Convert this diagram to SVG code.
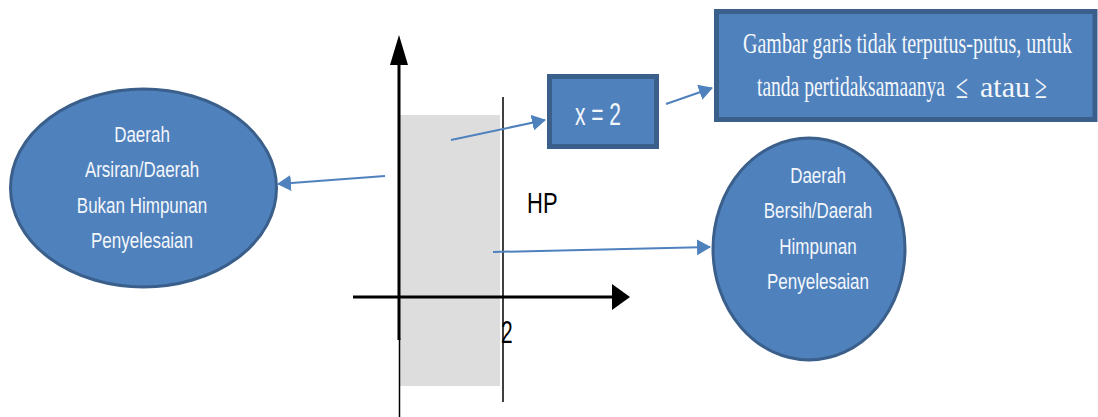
<svg xmlns="http://www.w3.org/2000/svg" width="1098" height="417" viewBox="0 0 1098 417">
  <style>
    .shape { fill: #4f81bd; stroke: #3a5f8b; }
    .lbl { font-family: "Liberation Sans", Arial, sans-serif; font-size: 17px; fill: #f4f7fb; text-anchor: middle; }
    .serif { font-family: "Liberation Serif", "Times New Roman", serif; fill: #f4f7fb; }
    .conn { stroke: #4f81bd; stroke-width: 2; fill: none; marker-end: url(#ah); }
    .axis { stroke: #000; stroke-width: 3; fill: none; }
    .dark { font-family: "Liberation Sans", Arial, sans-serif; fill: #000; }
  </style>
  <defs>
    <marker id="ah" markerUnits="userSpaceOnUse" markerWidth="14" markerHeight="16" refX="13" refY="8" orient="auto">
      <path d="M0,0 L14,8 L0,16 z" fill="#4f81bd"/>
    </marker>
  </defs>
  <rect width="1098" height="417" fill="#ffffff"/>

  <g id="graph">
    <rect x="400" y="115" width="100" height="271" fill="#dddddd"/>
    <line class="axis" x1="399" y1="60" x2="399" y2="340"/>
    <line x1="399.5" y1="338" x2="399.5" y2="417" stroke="#000" stroke-width="1.5"/>
    <polygon points="399,35 390,65 408,65" fill="#000"/>
    <line class="axis" x1="353" y1="297" x2="615" y2="297"/>
    <polygon points="630,297 612,284 612,310" fill="#000"/>
    <line x1="503" y1="97" x2="503" y2="402" stroke="#000" stroke-width="1.5"/>
    <text class="dark" font-size="21" transform="translate(501,343) scale(1,1.5)">2</text>
    <text class="dark" font-size="22" transform="translate(527,213) scale(1,1.35)">HP</text>
  </g>

  <g id="node-arsiran">
    <ellipse class="shape" cx="143.5" cy="188" rx="133" ry="99" stroke-width="3"/>
    <text class="lbl" transform="translate(142,142) scale(1,1.3)">Daerah</text>
    <text class="lbl" transform="translate(142,177) scale(1,1.3)">Arsiran/Daerah</text>
    <text class="lbl" transform="translate(142,213) scale(1,1.3)">Bukan Himpunan</text>
    <text class="lbl" transform="translate(142,248) scale(1,1.3)">Penyelesaian</text>
  </g>

  <g id="node-bersih">
    <ellipse class="shape" cx="809" cy="249" rx="96" ry="111" stroke-width="3"/>
    <text class="lbl" transform="translate(818,183) scale(1,1.3)">Daerah</text>
    <text class="lbl" transform="translate(818,218) scale(1,1.3)">Bersih/Daerah</text>
    <text class="lbl" transform="translate(818,254) scale(1,1.3)">Himpunan</text>
    <text class="lbl" transform="translate(818,289) scale(1,1.3)">Penyelesaian</text>
  </g>

  <g id="node-x2">
    <rect class="shape" x="549.5" y="76.5" width="107" height="70" stroke-width="5"/>
    <text class="lbl" style="font-size:21px" transform="translate(598,125) scale(1,1.45)">x = 2</text>
  </g>

  <g id="node-garis">
    <rect class="shape" x="716.5" y="11.5" width="378.5" height="108" stroke-width="5"/>
    <text class="serif" font-size="20" transform="translate(743,53) scale(1,1.5)" textLength="329" lengthAdjust="spacingAndGlyphs">Gambar garis tidak terputus-putus, untuk</text>
    <text class="serif" font-size="20" transform="translate(757,96) scale(1,1.5)" textLength="188" lengthAdjust="spacingAndGlyphs">tanda pertidaksamaanya</text>
    <text class="serif" font-size="34" x="956" y="98" textLength="12" lengthAdjust="spacingAndGlyphs">≤</text>
    <text class="serif" font-size="30" x="980" y="97">atau</text>
    <text class="serif" font-size="34" x="1035" y="98" textLength="12" lengthAdjust="spacingAndGlyphs">≥</text>
  </g>

  <g id="connectors">
    <line class="conn" x1="385" y1="176" x2="278" y2="184"/>
    <line class="conn" x1="451" y1="140" x2="545" y2="120"/>
    <line class="conn" x1="666" y1="104" x2="712" y2="88"/>
    <line class="conn" x1="493" y1="252" x2="710" y2="247"/>
  </g>
</svg>
